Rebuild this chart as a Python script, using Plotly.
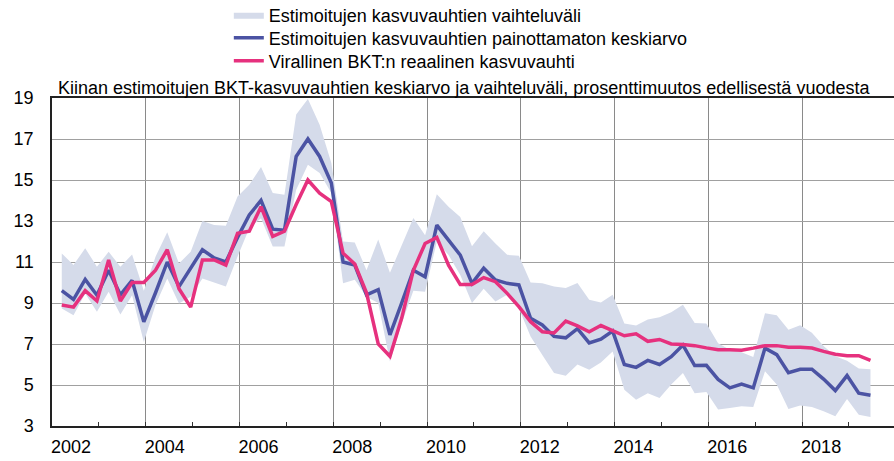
import plotly.graph_objects as go

# Quarterly observations 2002Q1 .. 2019Q2
years = [2002 + i // 4 for i in range(70)]
quarters = [i % 4 + 1 for i in range(70)]

mean_est = [9.6, 9.17, 10.15, 9.38, 10.6, 9.4, 10.1, 8.08, 9.5, 11.0,
            9.8, 10.7, 11.6, 11.2, 11.0, 12.2, 13.3, 14.0, 12.6, 12.55,
            16.15, 17.0, 16.15, 14.85, 11.0, 10.85, 9.4, 9.65, 7.45, 9.0,
            10.6, 10.28, 12.8, 12.07, 11.34, 9.96, 10.7, 10.12, 9.96, 9.88,
            8.25, 7.93, 7.37, 7.3, 7.75, 7.05, 7.24, 7.63, 6.0, 5.86,
            6.2, 6.0, 6.38, 6.95, 5.95, 5.96, 5.27, 4.86, 5.05, 4.86,
            6.8, 6.48, 5.6, 5.77, 5.77, 5.29, 4.73, 5.46, 4.6, 4.5]

official = [8.9, 8.8, 9.6, 9.1, 11.1, 9.1, 10.0, 10.0, 10.6, 11.6,
            9.7, 8.8, 11.1, 11.1, 10.85, 12.4, 12.5, 13.7, 12.25, 12.5,
            13.8, 15.0, 14.36, 13.95, 11.43, 10.9, 9.5, 7.0, 6.4, 8.25,
            10.6, 11.9, 12.2, 10.85, 9.9, 9.9, 10.24, 10.04, 9.47, 8.82,
            8.09, 7.6, 7.54, 8.12, 7.88, 7.6, 7.9, 7.66, 7.4, 7.5,
            7.13, 7.22, 7.0, 6.98, 6.92, 6.81, 6.72, 6.72, 6.7, 6.8,
            6.92, 6.92, 6.84, 6.84, 6.8, 6.64, 6.5, 6.43, 6.43, 6.2]

range_max = [11.42, 10.85, 11.67, 10.77, 11.5, 10.77, 11.37, 9.6, 11.26, 12.45,
             10.93, 11.5, 13.0, 12.8, 12.77, 14.2, 14.77, 15.63, 14.36, 14.28,
             18.2, 18.95, 17.7, 15.83, 12.0, 11.95, 10.6, 12.1, 10.47, 11.8,
             13.15, 12.3, 14.3, 13.7, 13.2, 11.77, 12.5, 11.9, 11.35, 11.3,
             10.0, 9.96, 9.8, 9.73, 9.98, 9.16, 9.03, 9.4, 8.0, 7.9,
             8.19, 8.3, 8.55, 8.92, 8.02, 8.0, 7.04, 6.72, 6.6, 6.37,
             8.5, 8.4, 7.7, 7.92, 7.55, 6.9, 6.4, 6.18, 5.8, 5.77]

range_min = [8.73, 8.4, 9.46, 8.57, 9.55, 8.44, 9.38, 7.1, 8.9, 10.2,
             8.98, 9.3, 10.2, 10.0, 9.8, 11.27, 12.65, 13.14, 11.76, 11.76,
             14.52, 15.74, 15.34, 14.36, 9.96, 10.13, 9.3, 9.0, 6.15, 8.0,
             9.6, 9.55, 12.0, 11.34, 10.37, 9.0, 9.7, 9.07, 9.4, 8.74,
             7.36, 6.46, 5.59, 5.45, 6.0, 5.75, 6.1, 6.64, 4.77, 4.28,
             4.6, 4.37, 5.02, 5.59, 4.6, 4.66, 3.8, 3.88, 3.96, 3.93,
             5.67, 5.02, 3.83, 4.0, 3.93, 3.72, 3.48, 4.32, 3.55, 3.44]

year_ticks = [2002, 2004, 2006, 2008, 2010, 2012, 2014, 2016, 2018]
year_labels = [str(y) for y in year_ticks]
y_ticks = [3, 5, 7, 9, 11, 13, 15, 17, 19]

names = ["Estimoitujen kasvuvauhtien vaihteluväli",
         "Estimoitujen kasvuvauhtien painottamaton keskiarvo",
         "Virallinen BKT:n reaalinen kasvuvauhti"]
title_text = ("Kiinan estimoitujen BKT-kasvuvauhtien keskiarvo ja vaihteluväli, "
              "prosenttimuutos edellisestä vuodesta")

# quarter-end month, centred in the month (date-axis convention)
x = [y + (3 * q - 0.5) / 12 for y, q in zip(years, quarters)]

BAND = "#d5dbea"
BLUE = "#4b53a3"
PINK = "#e6317e"
FONT = "Liberation Sans, Arial, sans-serif"

fig = go.Figure()
fig.add_trace(go.Scatter(x=x, y=range_min, mode="lines", line=dict(width=0, color=BAND),
                         showlegend=False, hoverinfo="skip"))
fig.add_trace(go.Scatter(x=x, y=range_max, mode="lines", line=dict(width=0, color=BAND),
                         fill="tonexty", fillcolor=BAND, name=names[0], legend="legend"))
fig.add_trace(go.Scatter(x=x, y=mean_est, mode="lines", line=dict(width=3.5, color=BLUE),
                         name=names[1], legend="legend2"))
fig.add_trace(go.Scatter(x=x, y=official, mode="lines", line=dict(width=3.5, color=PINK),
                         name=names[2], legend="legend3"))


def leg(py):
    return dict(x=0.21, y=(426 - py) / 328, xanchor="left", yanchor="middle",
                bgcolor="rgba(0,0,0,0)", font=dict(family=FONT, size=18, color="#000"),
                itemwidth=30, tracegroupgap=0)


fig.update_layout(
    width=894, height=461,
    margin=dict(l=52, r=0, t=98, b=35, autoexpand=False),
    paper_bgcolor="white", plot_bgcolor="white",
    font=dict(family=FONT, size=18, color="#000"),
    title=dict(text=title_text, x=58 / 894, xanchor="left", y=1 - 88 / 461, yanchor="middle",
               font=dict(family=FONT, size=18, color="#000"), automargin=False),
    legend=leg(15), legend2=leg(38), legend3=leg(61),
    showlegend=True,
)
fig.update_xaxes(range=[2002, 2019.96], tickmode="array", tickvals=year_ticks, ticktext=year_labels,
                 ticks="inside", ticklen=4, tickcolor="#333", showgrid=True, gridcolor="#8a8a8a",
                 gridwidth=1, showline=True, linecolor="#222", linewidth=1.5, mirror=True,
                 ticklabelshift=19, ticklabelstandoff=4, zeroline=False, automargin=False,
                 minor=dict(dtick=1, tick0=2002, ticks="inside", ticklen=4, tickcolor="#333", showgrid=False))
fig.update_yaxes(range=[3, 19], tickmode="array", tickvals=y_ticks, showgrid=True,
                 gridcolor="#a0a0a0", gridwidth=1.2, showline=True, linecolor="#222", linewidth=1.5,
                 ticks="", ticklabelstandoff=13, zeroline=False, automargin=False)

fig.write_html("out.html", config={"displayModeBar": False},
               post_script="document.body.style.margin='0';document.body.style.overflow='hidden';")
